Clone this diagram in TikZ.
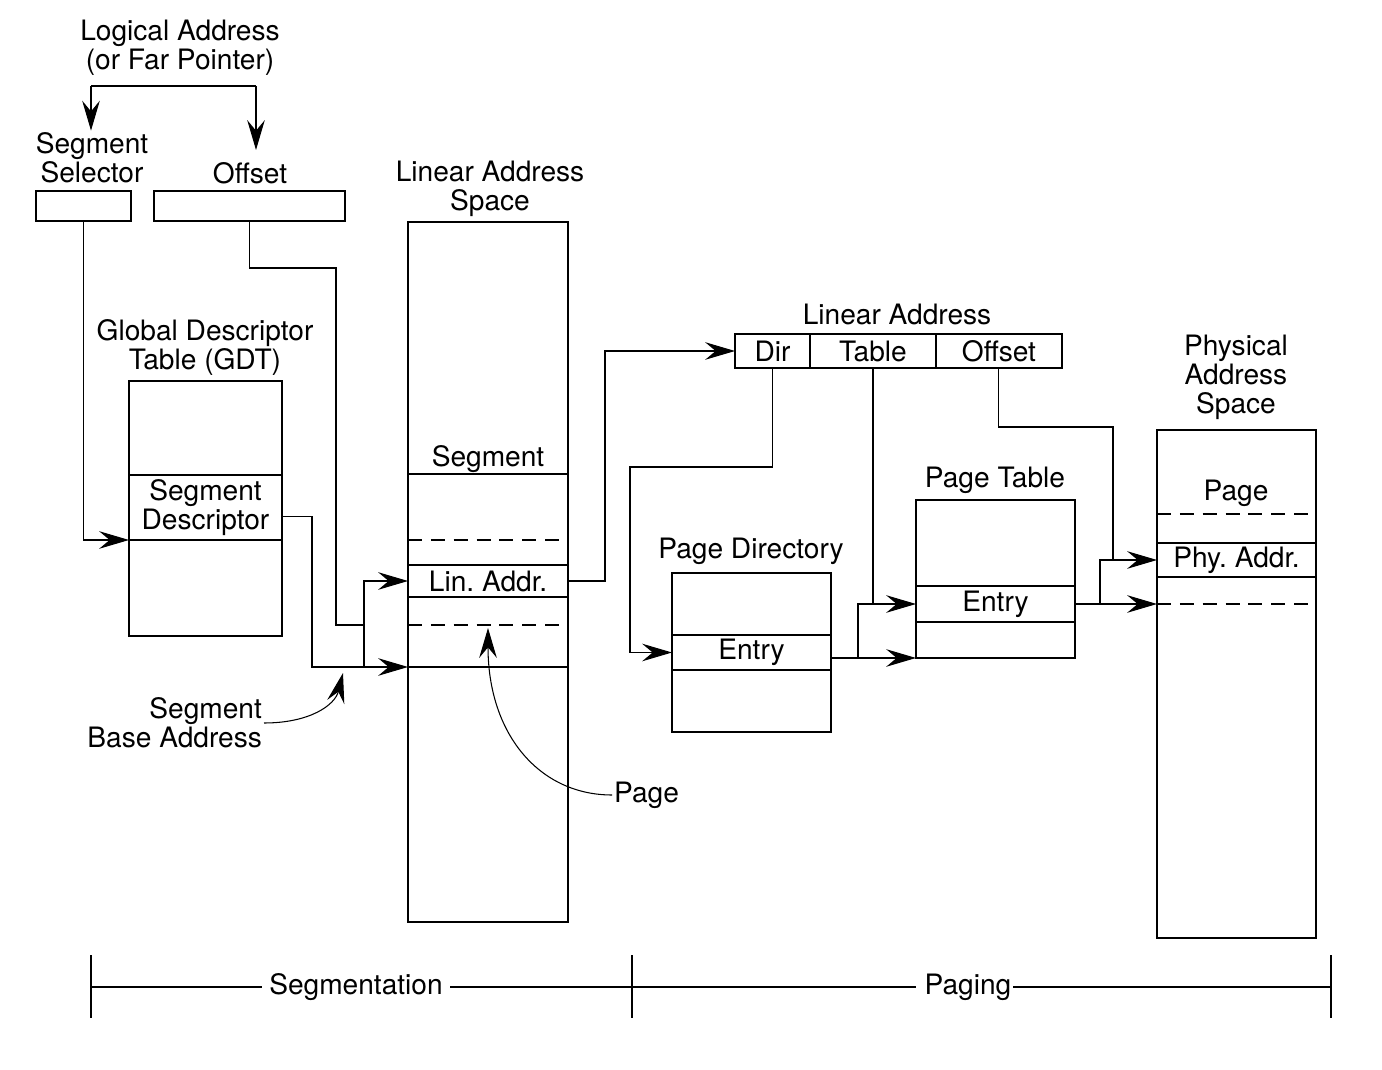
\documentclass[tikz,border=0pt]{standalone}
\usepackage{fontspec}
\setmainfont{TeX Gyre Heros}
\usetikzlibrary{arrows.meta,positioning}
\tikzset{bx/.style={draw,line width=0.8pt,inner sep=0pt,outer sep=0pt},
 lb/.style={align=center,inner sep=1pt},
 ln/.style={line width=0.6pt},
 ar/.style={ln,-{Stealth[length=17pt,width=10pt,inset=6pt]}},
 dsh/.style={line width=0.6pt,dash pattern=on 8pt off 5pt}}
\begin{document}
\begin{tikzpicture}[x=0.02cm,y=-0.02cm,font=\fontsize{16}{16.5}\selectfont\frenchspacing]
\useasboundingbox (0,0) rectangle (1382,1070);
% segmentation
\node[lb](lg) at (180,48){Logical Address\\(or Far Pointer)};
\node[lb](ssl) at (92,158){Segment\\Selector};\node[lb](ofl) at (250,173){Offset};
\node[bx,minimum width=1.9cm,minimum height=0.6cm](sel) at (83.5,206){};
\node[bx,minimum width=3.82cm,minimum height=0.6cm](ofs) at (249.5,206){};
\coordinate(f1) at (91,86);\coordinate(f2) at (256,86);
\draw[ln](f1)--(f2);\draw[ar](f1)--(f1|-ssl.north);\draw[ar](f2)--(f2|-0,150);
\node[lb](gdtl) at (205,347){Global Descriptor\\Table (GDT)};
\node[bx,minimum width=3.06cm,minimum height=5.1cm](gdt) at (205.5,508.5){};
\node[bx,minimum width=3.06cm,minimum height=1.3cm,align=center](sd) at (205.5,507.5){Segment\\Descriptor};
\node[lb](lasl) at (490,189){Linear Address\\Space};
\node[bx,minimum width=3.2cm,minimum height=14cm](las) at (488,572){};
\node[lb](sg) at (488,459){Segment};
\node[bx,minimum width=3.2cm,minimum height=0.64cm](lin) at (488,581){Lin. Addr.};
\foreach\y/\s in {474/ln,540/dsh,625/dsh,667/ln}{\draw[\s](las.west|-0,\y)--(las.east|-0,\y);}
\draw[ar](sel.south)|-(sd.south west);
\coordinate(jn) at (364,667);
\draw[ln](ofs.south)--(ofs.south|-0,268)-|(336,625)--(jn|-0,625);
\draw[ar]([yshift=-0.18cm]sd.east)-|(312,667)--(las.west|-jn);
\draw[ar](jn)|-(lin.west);
\node[lb,align=right,anchor=east](sba) at (264,723){Segment\\Base Address};
\coordinate(sbt) at (343,673);
\draw[ar](sba.east) .. controls (310,723) and (335,705) .. (sbt);
\node[lb,anchor=west](pgl) at (612,795){Page};\coordinate(pgt) at (488,628);
\draw[ar](pgl.west) .. controls (540,795) and (488,735) .. (pgt);
% paging
\node[lb](lal) at (897,314){Linear Address};
\node[bx,minimum width=1.5cm,minimum height=0.68cm](dir) at (772.5,351){Dir};
\node[bx,minimum width=2.52cm,minimum height=0.68cm,right=0pt of dir](tbl){Table};
\node[bx,minimum width=2.52cm,minimum height=0.68cm,right=0pt of tbl](off){Offset};
\draw[ar](lin.east)--(605,581)|-(dir.west);
\node[lb](pdl) at (751,551){Page Directory};
\node[bx,minimum width=3.18cm,minimum height=3.18cm](pd) at (751.5,652.5){};
\node[bx,minimum width=3.18cm,minimum height=0.7cm](pde) at (751.5,652.5){Entry};
\draw[ar](dir.south)|-(630,467)|-(pde.west);
\node[lb](ptl) at (995,480){Page Table};
\node[bx,minimum width=3.18cm,minimum height=3.16cm](pt) at (995.5,579){};
\node[bx,minimum width=3.18cm,minimum height=0.72cm](pte) at (995.5,604){Entry};
\draw[ar](tbl.south)|-(pte.west);
\draw[ar](pde.east|-pt.south)--(pt.south west);
\coordinate(j2) at (858,658);\draw[ln](j2)|-(tbl.south|-pte.west);
\node[lb](pasl) at (1236,377){Physical\\Address\\Space};
\node[bx,minimum width=3.18cm,minimum height=10.16cm](pas) at (1236.5,684){};
\node[lb](pgp) at (1236,493){Page};
\node[bx,minimum width=3.18cm,minimum height=0.68cm](pa) at (1236.5,560){Phy. Addr.};
\foreach\y in {514,604}{\draw[dsh](pas.west|-0,\y)--(pas.east|-0,\y);}
\draw[ar](off.south)|-(1113,427)|-(pa.west);
\draw[ar](pte.east)--(pas.west|-pte.east);
\coordinate(j3) at (1100,604);\draw[ln](j3)|-(1113,560);
% bottom scale
\coordinate(b1) at (91,987);\coordinate(b2) at (632,987);\coordinate(b3) at (1331,987);
\node[lb,inner sep=4pt](segn) at (356,987){Segmentation};\node[lb,inner sep=1pt](pgn) at (968,987){Paging};
\foreach\b in {b1,b2,b3}{\draw[ln](\b)++(0,-32)--++(0,63);}
\draw[ln](b1)--(segn)--(b2)--([xshift=-4pt]pgn.west) (pgn)--(b3);
\end{tikzpicture}
\end{document}
